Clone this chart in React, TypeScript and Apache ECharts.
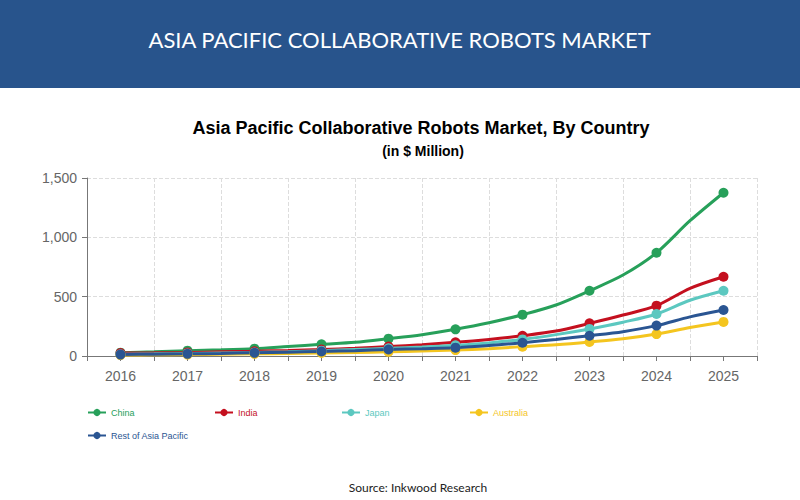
import React, { useEffect, useRef } from "react";
import * as echarts from "echarts";

const years = ["2016", "2017", "2018", "2019", "2020", "2021", "2022", "2023", "2024", "2025"];
const xPoints = [2016, 2016.5, 2017, 2017.5, 2018, 2018.5, 2019, 2019.5, 2020, 2020.5, 2021, 2021.5, 2022, 2022.5, 2023, 2023.5, 2024, 2024.5, 2025];
const china = [28, 36, 45, 52, 62, 80, 98, 115, 146, 180, 225, 280, 348, 430, 550, 682, 870, 1140, 1376];
const india = [25, 27, 30, 35, 40, 47, 55, 65, 80, 95, 115, 140, 171, 210, 275, 345, 424, 570, 668];
const japan = [15, 18, 22, 26, 30, 36, 45, 55, 65, 75, 90, 110, 140, 180, 228, 285, 354, 470, 550];
const australia = [8, 10, 12, 14, 18, 22, 26, 30, 35, 42, 50, 62, 79, 95, 118, 145, 185, 240, 287];
const restOfAsia = [12, 15, 18, 22, 27, 32, 38, 45, 55, 62, 70, 88, 112, 140, 171, 205, 256, 330, 388];

const seriesDefs = [
  { name: "China", data: china, color: "#27a05a" },
  { name: "India", data: india, color: "#c4101f" },
  { name: "Japan", data: japan, color: "#5cc8c0" },
  { name: "Australia", data: australia, color: "#f4c51f" },
  { name: "Rest of Asia Pacific", data: restOfAsia, color: "#2a5592" },
];

const legendPos = [
  { left: 87, top: 408 },
  { left: 214, top: 408 },
  { left: 341, top: 408 },
  { left: 469, top: 408 },
  { left: 87, top: 431 },
];

export default function App() {
  const ref = useRef<HTMLDivElement>(null);
  useEffect(() => {
    if (!ref.current) return;
    const chart = echarts.init(ref.current, null, { renderer: "svg" });
    const option: any = {
      animation: false,
      backgroundColor: "#ffffff",
      graphic: [
        { type: "rect", left: 0, top: 0, shape: { width: 800, height: 88 }, style: { fill: "#28548c" } },
        {
          type: "text", left: "center", top: 28,
          style: { text: "ASIA PACIFIC COLLABORATIVE ROBOTS MARKET", fill: "#ffffff", font: "22px Lato" },
        },
        {
          type: "text", x: 418, y: 481,
          style: { text: "Source: Inkwood Research", fill: "#222222", font: "12px Lato", align: "center" },
        },
      ],
      title: [
        {
          text: "Asia Pacific Collaborative Robots Market, By Country",
          left: 416, top: 114, textAlign: "center",
          textStyle: { fontFamily: "Liberation Sans", fontWeight: "bold", fontSize: 18, color: "#000000" },
        },
        {
          text: "(in $ Million)",
          left: 418, top: 139, textAlign: "center",
          textStyle: { fontFamily: "Liberation Sans", fontWeight: "bold", fontSize: 14, color: "#000000" },
        },
      ],
      legend: seriesDefs.map((s, i) => ({
        data: [{ name: s.name, textStyle: { color: s.color } }],
        left: legendPos[i].left,
        top: legendPos[i].top,
        itemWidth: 18,
        itemHeight: 9,
        itemGap: 4,
        textStyle: { fontFamily: "Liberation Sans", fontSize: 9 },
        padding: 0,
      })),
      grid: { left: 87, right: 43, top: 178, bottom: 144 },
      xAxis: [
        {
          type: "category",
          data: years,
          boundaryGap: true,
          axisLine: { show: false },
          axisTick: { show: false },
          axisLabel: { show: false },
          splitLine: { show: true, lineStyle: { color: "#dddddd", type: "dashed" } },
        },
        {
          type: "value",
          min: 2015.5,
          max: 2025.5,
          interval: 0.5,
          position: "bottom",
          axisLine: { show: true, lineStyle: { color: "#777777" } },
          axisTick: { show: true, length: 5, lineStyle: { color: "#777777" } },
          axisLabel: {
            color: "#666666", fontFamily: "Liberation Sans", fontSize: 14, margin: 13,
            formatter: (v: number) => (Math.abs(v - Math.round(v)) < 1e-6 ? String(Math.round(v)) : ""),
          },
          splitLine: { show: false },
        },
      ],
      yAxis: {
        type: "value",
        min: 0,
        max: 1500,
        interval: 500,
        axisLine: { show: true, lineStyle: { color: "#777777" } },
        axisTick: { show: true, length: 5, lineStyle: { color: "#777777" } },
        axisLabel: {
          color: "#666666", fontFamily: "Liberation Sans", fontSize: 14, margin: 10,
          formatter: (v: number) => v.toLocaleString("en-US"),
        },
        splitLine: { show: true, lineStyle: { color: "#dddddd", type: "dashed" } },
      },
      series: seriesDefs.map((s) => ({
        name: s.name,
        type: "line",
        xAxisIndex: 1,
        smooth: 0.3,
        symbol: "circle",
        symbolSize: 10,
        showAllSymbol: true,
        color: s.color,
        lineStyle: { width: 3, color: s.color },
        itemStyle: { color: s.color },
        data: xPoints.map((x, i) => ({
          value: [x, s.data[i]],
          symbol: Number.isInteger(x) ? "circle" : "none",
        })),
      })),
    };
    chart.setOption(option);
    return () => chart.dispose();
  }, []);
  return (
    <div
      ref={ref}
      style={{ position: "absolute", left: 0, top: 0, width: 800, height: 500 }}
    />
  );
}
